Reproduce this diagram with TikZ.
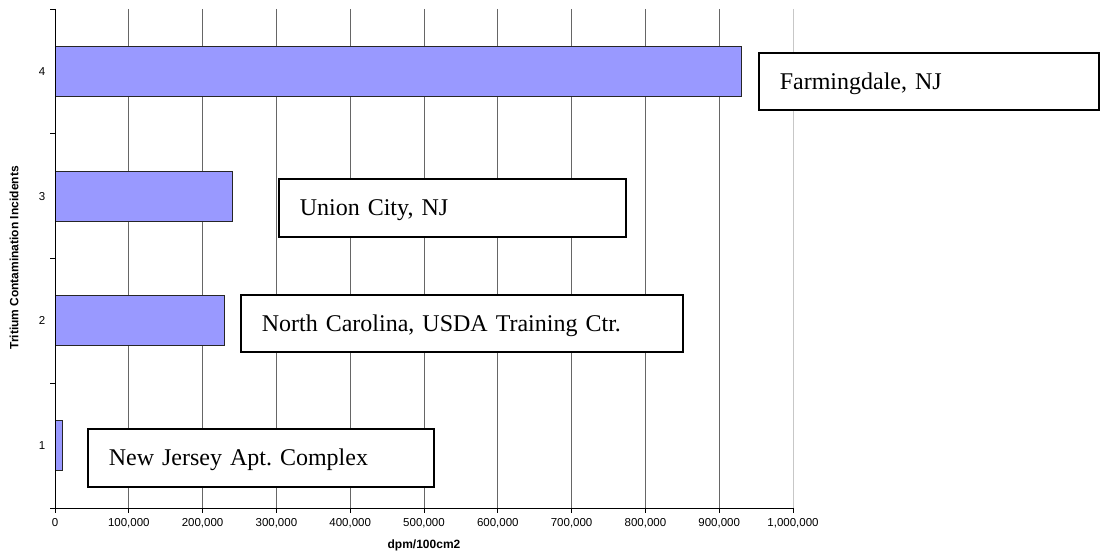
\documentclass[tikz,border=0pt]{standalone}
\usepackage{fontspec}
\setmainfont{Liberation Serif}
\setsansfont{Liberation Sans}
\usetikzlibrary{positioning}

\definecolor{barblue}{HTML}{9999FF}

\begin{document}
\frenchspacing
\begin{tikzpicture}[
  x=1pt,
  y=-1pt,
  gridline/.style={draw=black!60, line width=0.9pt},
  lastgrid/.style={draw=black!22, line width=0.9pt},
  axisline/.style={draw=black, line width=0.9pt},
  bar/.style={
    draw=black!85,
    line width=0.8pt,
    fill=barblue
  },
  ticklabel/.style={
    font=\sffamily\fontsize{11.5}{14}\selectfont,
    inner sep=1pt
  },
  axistitle/.style={
    font=\sffamily\bfseries\fontsize{12}{14}\selectfont,
    inner sep=1pt
  },
  callout/.style={
    draw=black,
    line width=1.6pt,
    fill=white,
    anchor=north west,
    align=left,
    inner xsep=21pt,
    inner ysep=0pt,
    text height=16pt,
    text depth=0pt,
    font=\fontsize{24}{28}\selectfont
  }
]

\useasboundingbox (0,0) rectangle (1101,559);

% grid
\foreach \i in {1,...,9}
  \draw[gridline] (55+73.8*\i,9) -- (55+73.8*\i,508);
\draw[lastgrid] (793,9) -- (793,508);

% bars (value in thousands)
\foreach \k/\v in {1/10,2/230,3/240,4/930}
  \draw[bar] (55,{508-124.75*(\k-0.5)-25})
    rectangle ({55+0.738*\v},{508-124.75*(\k-0.5)+25});

% axes
\draw[axisline] (55,9) -- (55,508) -- (793,508);
\foreach \i in {0,...,10}
  \draw[axisline] (55+73.8*\i,508) -- (55+73.8*\i,513);
\foreach \k in {0,...,4}
  \draw[axisline] (50,9+124.75*\k) -- (55,9+124.75*\k);

\foreach \i/\lab in {0/0,1/{100,000},2/{200,000},3/{300,000},4/{400,000},
                     5/{500,000},6/{600,000},7/{700,000},8/{800,000},
                     9/{900,000},10/{1,000,000}}
  \node[ticklabel] (xl\i) at (55+73.8*\i,523) {\lab};

\foreach \k in {1,...,4}
  \node[ticklabel] (yl\k) at (42,{508-124.75*(\k-0.5)}) {\k};

\node[axistitle] (xtitle) at (424,545) {dpm/100cm2};
\node[axistitle, rotate=90] (ytitle) at (14,258)
  {Tritium Contamination Incidents};

% callouts
\node[callout, text width=298pt, minimum height=57pt] (farm)
  at (758,52) {Farmingdale, NJ};

\node[callout, text width=305pt, minimum height=58pt] (union)
  at (278,178) {Union City, NJ};

\node[callout, text width=400pt, minimum height=57pt] (carolina)
  at (240,294) {North Carolina, USDA Training Ctr.};

\node[callout, text width=304pt, minimum height=58pt] (newjersey)
  at (87,428) {New Jersey Apt. Complex};

\end{tikzpicture}
\end{document}
